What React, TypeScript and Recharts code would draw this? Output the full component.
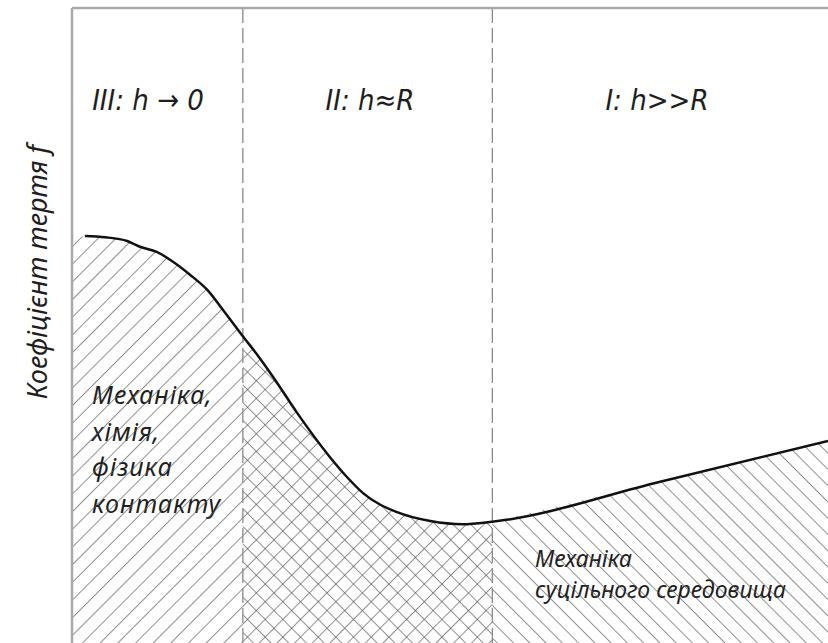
import React from 'react';
import {
  ComposedChart,
  Area,
  Line,
  XAxis,
  YAxis,
  ReferenceLine,
  Customized,
} from 'recharts';

// film thickness h (relative units) and friction coefficient f
const H = [0, 1.7, 4.4, 7.3, 9.0, 11.2, 13.4, 15.6, 17.9, 20.0, 22.6, 24.5, 26.6, 29.8, 34.1, 36.4, 38.5, 43.0, 47.4, 51.7, 55.6, 77.8, 100];
const F = [62.5, 64.1, 63.9, 63.3, 62.4, 61.6, 60.0, 58.0, 55.6, 52.4, 48.3, 45.4, 41.9, 36.2, 29.3, 26.1, 23.6, 20.6, 19.2, 18.7, 19.1, 25.4, 31.8];

// zone borders III|II and II|I
const ZONE_BORDERS = [22.6, 55.6];
const ZONE_TITLES = ['III: h → 0', 'II: h≈R', 'I: h>>R'];
const Y_LABEL = 'Коефіцієнт тертя f';
const CONTACT_TEXT = ['Механіка,', 'хімія,', 'фізика', 'контакту'];
const CONTINUUM_TEXT = ['Механіка', 'суцільного середовища'];

const data = H.map((h, i) => ({
  h,
  f: i === 0 ? null : F[i],
  z3: h <= ZONE_BORDERS[0] ? F[i] : null,
  z2: h >= ZONE_BORDERS[0] && h <= ZONE_BORDERS[1] ? F[i] : null,
  z1: h >= ZONE_BORDERS[1] ? F[i] : null,
}));

const W = 828;
const HGT = 643;
const HATCH = '#555';
const TEXT = '#1e1e1e';

const captionFont = {
  fontFamily: "'Noto Sans', sans-serif",
  fontStyle: 'italic' as const,
  fill: TEXT,
};

const Labels = () => (
  <g>
    {/* white patches behind the captions */}
    <rect x={86} y={371} width={142} height={40} fill="#fff" />
    <rect x={86} y={410} width={111} height={72} fill="#fff" />
    <rect x={86} y={481} width={136} height={42} fill="#fff" />
    <rect x={530} y={537} width={205} height={42} fill="#fff" />
    <rect x={530} y={578} width={257} height={32} fill="#fff" />
    <text
      x={36}
      y={272}
      transform="rotate(-90 36 272)"
      textAnchor="middle"
      dominantBaseline="central"
      fontSize={27}
      {...captionFont}
    >
      {Y_LABEL}
    </text>
    {[148, 370, 657].map((cx, i) => (
      <text
        key={i}
        x={cx}
        y={110}
        textAnchor="middle"
        fontFamily="'DejaVu Sans Condensed', 'Liberation Sans Narrow', 'DejaVu Sans', sans-serif"
        fontStyle="italic"
        fontSize={29}
        fill={TEXT}
      >
        {ZONE_TITLES[i]}
      </text>
    ))}
    {CONTACT_TEXT.map((t, i) => (
      <text key={t} x={92} y={[404, 441, 476, 513][i]} fontSize={25} letterSpacing={1} {...captionFont}>
        {t}
      </text>
    ))}
    {CONTINUUM_TEXT.map((t, i) => (
      <text key={t} x={535} y={[567, 598][i]} fontSize={23} {...captionFont}>
        {t}
      </text>
    ))}
  </g>
);

export default function App() {
  return (
    <div style={{ position: 'absolute', left: 0, top: 0, background: '#fff' }}>
      <ComposedChart
        width={W}
        height={HGT}
        data={data}
        margin={{ top: 8, right: 0, bottom: 0, left: 72 }}
      >
        <defs>
          <pattern id="hatchFwd" width="12.5" height="12.5" patternUnits="userSpaceOnUse" patternTransform="rotate(45)">
            <line x1="0" y1="0" x2="0" y2="12.5" stroke={HATCH} strokeWidth={1.3} />
          </pattern>
          <pattern id="hatchCross" width="12.5" height="12.5" patternUnits="userSpaceOnUse" patternTransform="rotate(45)">
            <line x1="0" y1="0" x2="0" y2="12.5" stroke={HATCH} strokeWidth={1.3} />
            <line x1="0" y1="0" x2="12.5" y2="0" stroke={HATCH} strokeWidth={1.3} />
          </pattern>
          <pattern id="hatchBack" width="11.5" height="11.5" patternUnits="userSpaceOnUse" patternTransform="rotate(-45)">
            <line x1="0" y1="0" x2="0" y2="11.5" stroke={HATCH} strokeWidth={1.3} />
          </pattern>
        </defs>
        <XAxis dataKey="h" type="number" domain={[0, 100]} hide />
        <YAxis type="number" domain={[0, 100]} hide />
        <Area type="monotone" dataKey="z3" stroke="none" fill="url(#hatchFwd)" fillOpacity={1} isAnimationActive={false} />
        <Area type="monotone" dataKey="z2" stroke="none" fill="url(#hatchCross)" fillOpacity={1} isAnimationActive={false} />
        <Area type="monotone" dataKey="z1" stroke="none" fill="url(#hatchBack)" fillOpacity={1} isAnimationActive={false} />
        {ZONE_BORDERS.map((b) => (
          <ReferenceLine key={b} x={b} stroke="#8a8a8a" strokeWidth={1.3} strokeDasharray="15 5" />
        ))}
        <ReferenceLine x={0} stroke="#a9a9a9" strokeWidth={2.5} />
        <ReferenceLine y={100} stroke="#a9a9a9" strokeWidth={2.5} />
        <Line type="monotone" dataKey="f" stroke="#111" strokeWidth={2.5} dot={false} isAnimationActive={false} />
        <Customized component={Labels} />
      </ComposedChart>
    </div>
  );
}
